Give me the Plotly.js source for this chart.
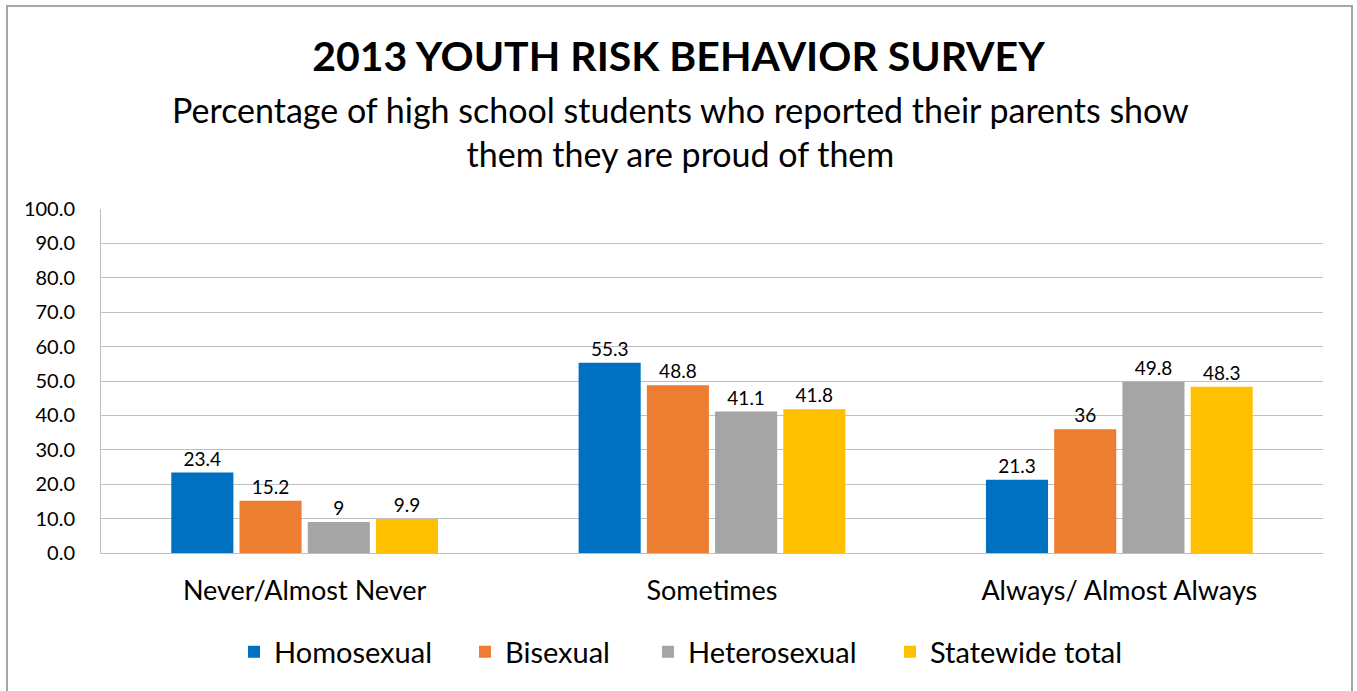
<!DOCTYPE html>
<html><head><meta charset="utf-8">
<script src="https://cdn.plot.ly/plotly-3.0.1.min.js"></script>
<style>html,body{margin:0;padding:0;background:#fff;}#chart{width:1357px;height:691px;}</style>
</head><body><div id="chart"></div>
<script>
const categories = ["Never/Almost Never", "Sometimes", "Always/ Almost Always"];
const seriesNames = ["Homosexual", "Bisexual", "Heterosexual", "Statewide total"];
const homosexual = [23.4, 55.3, 21.3];
const bisexual = [15.2, 48.8, 36];
const heterosexual = [9, 41.1, 49.8];
const statewide = [9.9, 41.8, 48.3];
const yTickVals = [0, 10, 20, 30, 40, 50, 60, 70, 80, 90, 100];
const colors = ["#0070C0", "#ED7D31", "#A5A5A5", "#FFC000"];
const FONT = "Lato, 'Open Sans', sans-serif";

const legendIds = ["legend", "legend2", "legend3", "legend4"];
const legendLeftPx = [234, 465, 648, 890];

const seriesValues = [homosexual, bisexual, heterosexual, statewide];
const traces = seriesValues.map((vals, i) => ({
  type: "bar", name: seriesNames[i], x: categories, y: vals,
  legend: legendIds[i],
  marker: {color: colors[i]},
  text: vals.map(v => String(v)), textposition: "outside",
  textfont: {family: FONT, size: 19, color: "#000"},
  cliponaxis: false, hoverinfo: "x+y+name"
}));

const layout = {
  width: 1357, height: 691,
  margin: {l: 101, r: 34, t: 209, b: 138},
  paper_bgcolor: "#fff", plot_bgcolor: "#fff",
  font: {family: FONT, color: "#000"},
  barmode: "group", bargap: 0.33, bargroupgap: 0.09,
  title: {text: "<b>2013 YOUTH RISK BEHAVIOR SURVEY</b>", font: {family: FONT, size: 41, color: "#000"},
          x: 0.5, xanchor: "center", xref: "container", y: 1 - 57/691, yref: "container", yanchor: "middle"},
  annotations: [
    {text: "Percentage of high school students who reported their parents show<br>them they are proud of them",
     xref: "paper", yref: "paper", x: (680-101)/1222, y: (553-131)/344, xanchor: "center", yanchor: "middle",
     showarrow: false, font: {family: FONT, size: 34, color: "#000"}, align: "center"}
  ],
  xaxis: {type: "category", tickfont: {family: FONT, size: 27, color: "#000"},
          showline: true, linecolor: "#BFBFBF", linewidth: 1,
          ticks: "outside", ticklen: 14, tickcolor: "rgba(0,0,0,0)", showgrid: false, fixedrange: true},
  yaxis: {range: [0, 100], tickvals: yTickVals, tickformat: ".1f",
          tickfont: {family: FONT, size: 20, color: "#000"},
          showgrid: true, gridcolor: "#BFBFBF", gridwidth: 1,
          showline: true, linecolor: "#BFBFBF", linewidth: 1,
          ticks: "outside", ticklen: 21, tickcolor: "rgba(0,0,0,0)", zeroline: false, fixedrange: true},
  showlegend: true,
  shapes: [
    {type: "rect", xref: "paper", yref: "paper",
     x0: (7-101)/1222, x1: (1352-101)/1222, y0: (553-700)/344, y1: (553-6)/344,
     line: {color: "#A6A6A6", width: 2}, fillcolor: "rgba(0,0,0,0)", layer: "below"}
  ]
};
legendIds.forEach((id, i) => {
  layout[id] = {orientation: "h", x: (legendLeftPx[i]-101)/1222, xanchor: "left",
                y: -(652-553)/344, yanchor: "middle", bgcolor: "rgba(0,0,0,0)",
                font: {family: FONT, size: 29, color: "#000"}, itemwidth: 30};
});
Plotly.newPlot("chart", traces, layout, {displayModeBar: false, staticPlot: true});
</script></body></html>
